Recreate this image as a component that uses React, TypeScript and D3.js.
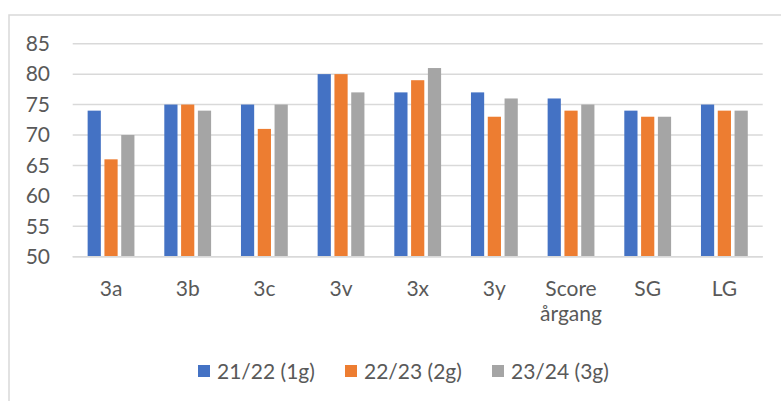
import React, { useEffect, useRef } from 'react';
import * as d3 from 'd3';

const categories = ['3a', '3b', '3c', '3v', '3x', '3y', 'Score årgang', 'SG', 'LG'];
const seriesNames = ['21/22 (1g)', '22/23 (2g)', '23/24 (3g)'];
const values2122 = [74, 75, 75, 80, 77, 77, 76, 74, 75];
const values2223 = [66, 75, 71, 80, 79, 73, 74, 73, 74];
const values2324 = [70, 74, 75, 77, 81, 76, 75, 73, 74];
const yTicks = [50, 55, 60, 65, 70, 75, 80, 85];
const colors = ['#4472C4', '#ED7D31', '#A5A5A5'];

const W = 781;
const H = 401;

export default function App() {
  const svgRef = useRef<SVGSVGElement>(null);

  useEffect(() => {
    if (!svgRef.current) return;
    const svg = d3.select(svgRef.current);
    svg.selectAll('*').remove();

    const font = 'Lato, "Open Sans", sans-serif';
    const textColor = '#595959';
    const gridColor = '#d9d9d9';

    // chart frame (cut off on the right and bottom)
    svg.append('rect')
      .attr('x', 9)
      .attr('y', 15)
      .attr('width', W + 20)
      .attr('height', H + 20)
      .attr('fill', '#fff')
      .attr('stroke', gridColor)
      .attr('stroke-width', 1.5);

    const left = 72.7;
    const right = 762.7;
    const x0 = d3.scaleBand<string>().domain(categories).range([left, right]);
    const x1 = d3.scaleBand<string>().domain(seriesNames).range([0, 46.8]).paddingInner(0.214);
    const groupOffset = (x0.bandwidth() - 46.8) / 2;

    const y = d3.scaleLinear().domain([50, 85]).range([256.7, 43.7]);

    // gridlines
    svg.append('g')
      .selectAll('line')
      .data(yTicks)
      .join('line')
      .attr('x1', left)
      .attr('x2', right)
      .attr('y1', d => y(d))
      .attr('y2', d => y(d))
      .attr('stroke', gridColor)
      .attr('stroke-width', 1.5);

    // y labels
    svg.append('g')
      .selectAll('text')
      .data(yTicks)
      .join('text')
      .attr('x', 50)
      .attr('y', d => y(d))
      .attr('dy', '0.35em')
      .attr('text-anchor', 'end')
      .attr('font-family', font)
      .attr('font-size', 21)
      .attr('fill', textColor)
      .text(d => String(d));

    // bars
    const allSeries = [values2122, values2223, values2324];
    allSeries.forEach((vals, si) => {
      svg.append('g')
        .selectAll('rect')
        .data(vals)
        .join('rect')
        .attr('x', (d, i) => (x0(categories[i]) ?? 0) + groupOffset + (x1(seriesNames[si]) ?? 0))
        .attr('y', d => y(d))
        .attr('width', x1.bandwidth())
        .attr('height', d => y(50) - y(d))
        .attr('fill', colors[si]);
    });

    // x axis line
    svg.append('line')
      .attr('x1', left)
      .attr('x2', right)
      .attr('y1', y(50))
      .attr('y2', y(50))
      .attr('stroke', gridColor)
      .attr('stroke-width', 1.5);

    // x labels
    const xl = svg.append('g')
      .selectAll('text')
      .data(categories)
      .join('text')
      .attr('x', d => (x0(d) ?? 0) + x0.bandwidth() / 2)
      .attr('y', 295.5)
      .attr('text-anchor', 'middle')
      .attr('font-family', font)
      .attr('font-size', 21)
      .attr('fill', textColor);
    xl.each(function (d) {
      const parts = d.split(' ');
      const t = d3.select(this);
      const cx = t.attr('x');
      parts.forEach((p, i) => {
        t.append('tspan').attr('x', cx).attr('dy', i === 0 ? 0 : 25.5).text(p);
      });
    });

    // legend
    const legendX = [198, 345, 492];
    const lg = svg.append('g');
    seriesNames.forEach((name, i) => {
      lg.append('rect')
        .attr('x', legendX[i])
        .attr('y', 365)
        .attr('width', 12)
        .attr('height', 12)
        .attr('fill', colors[i]);
      lg.append('text')
        .attr('x', legendX[i] + 19)
        .attr('y', 371.5)
        .attr('dy', '0.35em')
        .attr('font-family', font)
        .attr('font-size', 21)
        .attr('fill', textColor)
        .text(name);
    });
  }, []);

  return (
    <svg
      ref={svgRef}
      width={W}
      height={H}
      style={{ position: 'absolute', left: 0, top: 0, background: '#fff' }}
    />
  );
}
